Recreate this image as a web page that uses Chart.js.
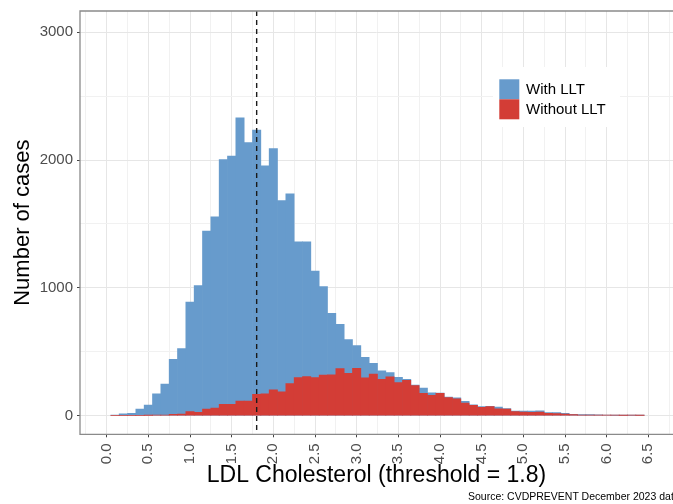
<!DOCTYPE html>
<html>
<head>
<meta charset="utf-8">
<script src="https://cdn.jsdelivr.net/npm/chart.js@4"></script>
<style>
  html, body { margin: 0; padding: 0; background: #fff; overflow: hidden; }
  #wrap { position: relative; width: 673px; height: 504px; }
  #source {
    position: absolute; left: 468px; top: 490px;
    font: 10.5px "Liberation Sans", Arial, sans-serif; color: #000;
    white-space: nowrap;
  }
</style>
</head>
<body>
<div id="wrap">
  <canvas id="hist"></canvas>
  <div id="source">Source: CVDPREVENT December 2023 data</div>
</div>
<script>
/* ── data (bin centres, width 0.1) ─────────────────────── */
const bins = [
  0.1, 0.2, 0.3, 0.4, 0.5, 0.6, 0.7, 0.8, 0.9, 1.0,
  1.1, 1.2, 1.3, 1.4, 1.5, 1.6, 1.7, 1.8, 1.9, 2.0,
  2.1, 2.2, 2.3, 2.4, 2.5, 2.6, 2.7, 2.8, 2.9, 3.0,
  3.1, 3.2, 3.3, 3.4, 3.5, 3.6, 3.7, 3.8, 3.9, 4.0,
  4.1, 4.2, 4.3, 4.4, 4.5, 4.6, 4.7, 4.8, 4.9, 5.0,
  5.1, 5.2, 5.3, 5.4, 5.5, 5.6, 5.7, 5.8, 5.9, 6.0,
  6.1, 6.2, 6.3, 6.4
];
const withLLT = [
  5, 15, 18, 52, 83, 171, 246, 440, 525, 888,
  1017, 1445, 1556, 2004, 2030, 2330, 2136, 2234, 1955, 2089,
  1683, 1735, 1359, 1359, 1131, 1010, 800, 715, 596, 549,
  456, 409, 350, 337, 300, 285, 240, 215, 178, 176,
  145, 140, 112, 85, 70, 73, 67, 55, 36, 36,
  36, 38, 24, 24, 18, 10, 8, 8, 6, 3,
  2, 2, 1, 1
];
const withoutLLT = [
  0, 0, 0, 0, 2, 3, 5, 10, 13, 31,
  26, 52, 60, 88, 88, 114, 114, 166, 171, 202,
  186, 251, 298, 305, 298, 318, 320, 368, 331, 370,
  295, 326, 285, 303, 259, 277, 236, 174, 158, 174,
  142, 132, 98, 80, 65, 70, 54, 52, 31, 28,
  26, 28, 18, 16, 13, 8, 5, 5, 4, 3,
  3, 2, 4, 1
];
const seriesNames = ['With LLT', 'Without LLT'];
const threshold = 1.8;
const xTitle = 'LDL Cholesterol (threshold = 1.8)';
const yTitle = 'Number of cases';

const BLUE = '#679bcc';
const RED  = '#d33d36';
const FONT = '"Liberation Sans", Arial, sans-serif';
const CLEAR = 'rgba(0,0,0,0)';

function isHalf(v) {
  const r = Math.round(v * 100) / 100;
  return Math.abs(r * 2 - Math.round(r * 2)) < 1e-6;
}
const isMult = (v, m) => Math.abs(v / m - Math.round(v / m)) < 1e-6;

/* ── extras: panel border, threshold line, legend ─────── */
const extras = {
  id: 'extras',
  afterDatasetsDraw(chart) {
    const { ctx, chartArea: a, scales } = chart;
    ctx.save();
    // dashed threshold
    const x = scales.x.getPixelForValue(threshold);
    ctx.strokeStyle = '#1a1a1a';
    ctx.lineWidth = 1.4;
    ctx.setLineDash([5, 4]);
    ctx.beginPath();
    ctx.moveTo(x, a.top);
    ctx.lineTo(x, a.bottom);
    ctx.stroke();
    ctx.setLineDash([]);

    // panel border (right side falls off the canvas)
    ctx.strokeStyle = '#8a8a8a';
    ctx.lineWidth = 1.3;
    ctx.beginPath();
    ctx.moveTo(a.right + 2, a.top);
    ctx.lineTo(a.left, a.top);
    ctx.lineTo(a.left, a.bottom);
    ctx.lineTo(a.right + 2, a.bottom);
    ctx.stroke();

    // legend
    ctx.fillStyle = '#fff';
    ctx.fillRect(493, 67, 127, 60);
    ctx.fillStyle = BLUE;
    ctx.fillRect(499.3, 79.3, 20, 20);
    ctx.fillStyle = RED;
    ctx.fillRect(499.3, 99.3, 20, 20);
    ctx.fillStyle = '#000';
    ctx.font = '15px ' + FONT;
    ctx.textBaseline = 'middle';
    ctx.textAlign = 'left';
    ctx.fillText(seriesNames[0], 526, 89.8);
    ctx.fillText(seriesNames[1], 526, 109.8);
    ctx.restore();
  }
};

new Chart(document.getElementById('hist'), {
  type: 'bar',
  data: {
    datasets: [
      {
        label: seriesNames[0],
        data: bins.map((b, i) => ({ x: b, y: withLLT[i] })),
        backgroundColor: BLUE,
        borderWidth: 0,
        order: 2,
      },
      {
        label: seriesNames[1],
        data: bins.map((b, i) => ({ x: b, y: withoutLLT[i] })),
        backgroundColor: RED,
        borderWidth: 0,
        order: 1,
      }
    ]
  },
  options: {
    responsive: true,
    maintainAspectRatio: false,
    animation: false,
    events: [],
    grouped: false,
    barPercentage: 1,
    categoryPercentage: 1,
    layout: { padding: { top: 11, left: 0, right: 0, bottom: 0 } },
    plugins: { legend: { display: false }, tooltip: { enabled: false } },
    scales: {
      x: {
        type: 'linear',
        min: -0.32, max: 6.796,
        offset: false,
        border: { display: false },
        grid: {
          offset: false,
          color: c => isHalf(c.tick.value) ? '#e6e6e6' : '#f1f1f1',
          tickColor: c => isHalf(c.tick.value) ? '#444' : CLEAR,
          tickLength: 3,
        },
        ticks: {
          stepSize: 0.25,
          autoSkip: false,
          includeBounds: false,
          minRotation: 90, maxRotation: 90,
          padding: 6,
          color: '#4d4d4d',
          font: { family: FONT, size: 15 },
          callback: v => (v >= 0 && isHalf(v)) ? (Math.round(v * 10) / 10).toFixed(1) : ''
        },
        title: {
          display: true, text: xTitle, color: '#000',
          font: { family: FONT, size: 23 },
          padding: { top: 0, bottom: 15 }
        },
        afterFit: s => {
          s.height = 69.7;
          s.paddingLeft = 0; s.paddingRight = 0;
        }
      },
      y: {
        min: -146, max: 3166,
        border: { display: false },
        grid: {
          color: c => isMult(c.tick.value, 1000) ? '#e6e6e6'
                    : isMult(c.tick.value, 500) ? '#f1f1f1' : CLEAR,
          tickColor: c => isMult(c.tick.value, 1000) ? '#444' : CLEAR,
          tickLength: 3,
        },
        ticks: {
          stepSize: 100,
          autoSkip: false,
          includeBounds: false,
          padding: 4,
          color: '#4d4d4d',
          font: { family: FONT, size: 15 },
          callback: v => isMult(v, 1000) ? String(Math.round(v)) : ''
        },
        title: {
          display: true, text: yTitle, color: '#000',
          font: { family: FONT, size: 22 },
          padding: { top: 10, bottom: 0 }
        },
        afterFit: s => {
          s.width = 80;
          s.paddingTop = 0; s.paddingBottom = 0;
        }
      }
    }
  },
  plugins: [extras]
});
</script>
</body>
</html>
